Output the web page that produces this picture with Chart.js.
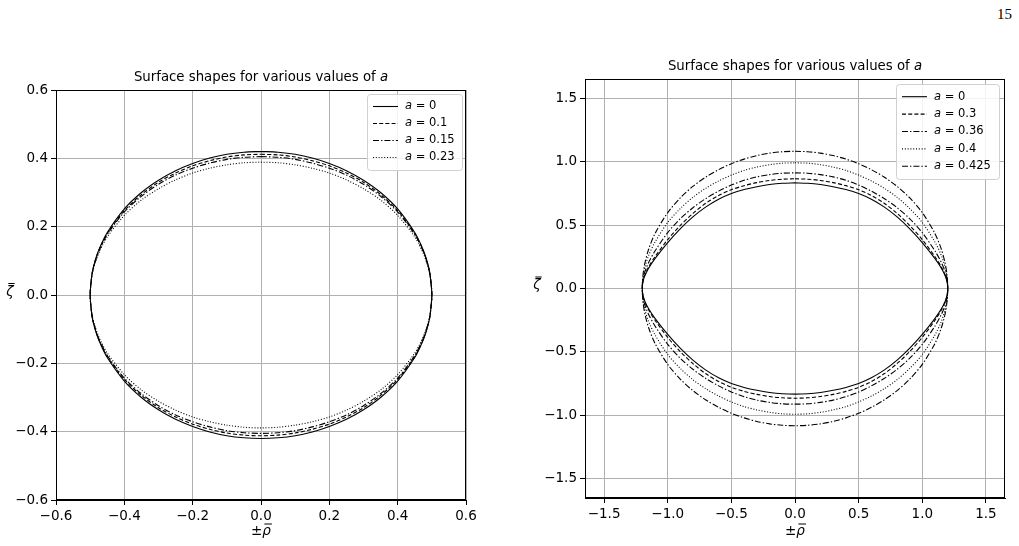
<!DOCTYPE html>
<html>
<head>
<meta charset="utf-8">
<script src="https://cdn.jsdelivr.net/npm/chart.js@4.4.1/dist/chart.umd.min.js"></script>
<style>
  html, body { margin: 0; padding: 0; background: #fff; }
  body { width: 1019px; height: 546px; position: relative; overflow: hidden; }
  canvas { position: absolute; top: 0; }
  #leftChart { left: 0; }
  #rightChart { left: 510px; }
  #pageNo { position: absolute; right: 7px; top: 6px; font-family: "Liberation Serif", "DejaVu Serif", serif; font-size: 15px; color: #000; }
</style>
</head>
<body>
<div id="pageNo">15</div>
<canvas id="leftChart" width="500" height="546" style="width:500px;height:546px"></canvas>
<canvas id="rightChart" width="509" height="546" style="width:509px;height:546px"></canvas>
<script>
// ---- left panel: half-profile zeta(rho), rho >= 0 (mirrored to ±rho, ±zeta) ----
const leftRho = [0, 0.05, 0.1, 0.15, 0.2, 0.25, 0.3, 0.35, 0.4, 0.45, 0.47, 0.48, 0.49, 0.495, 0.5];
const leftLabels = ['0', '0.1', '0.15', '0.23'];
const leftA0   = [0.420, 0.418, 0.412, 0.401, 0.385, 0.364, 0.336, 0.300, 0.252, 0.183, 0.143, 0.118, 0.084, 0.059, 0];
const leftA010 = [0.412, 0.410, 0.404, 0.393, 0.378, 0.357, 0.330, 0.294, 0.247, 0.180, 0.141, 0.116, 0.083, 0.058, 0];
const leftA015 = [0.405, 0.403, 0.397, 0.386, 0.371, 0.351, 0.324, 0.289, 0.243, 0.177, 0.138, 0.114, 0.081, 0.057, 0];
const leftA023 = [0.389, 0.387, 0.381, 0.371, 0.357, 0.337, 0.311, 0.278, 0.233, 0.170, 0.133, 0.109, 0.078, 0.055, 0];

// ---- right panel ----
const rightRho = [0, 0.1, 0.2, 0.3, 0.4, 0.5, 0.6, 0.7, 0.8, 0.9, 1.0, 1.1, 1.15, 1.18, 1.195, 1.2];
const rightLabels = ['0', '0.3', '0.36', '0.4', '0.425'];
const rightA0    = [0.832, 0.829, 0.819, 0.802, 0.779, 0.748, 0.703, 0.643, 0.566, 0.472, 0.362, 0.235, 0.160, 0.100, 0.050, 0];
const rightA030  = [0.864, 0.861, 0.851, 0.834, 0.810, 0.778, 0.733, 0.672, 0.593, 0.498, 0.385, 0.250, 0.170, 0.105, 0.055, 0];
const rightA036  = [0.911, 0.908, 0.897, 0.879, 0.852, 0.815, 0.767, 0.709, 0.638, 0.551, 0.440, 0.295, 0.205, 0.130, 0.068, 0];
const rightA040  = [0.990, 0.987, 0.975, 0.956, 0.930, 0.893, 0.847, 0.790, 0.720, 0.631, 0.520, 0.365, 0.260, 0.165, 0.085, 0];
const rightA0425 = [1.081, 1.077, 1.066, 1.047, 1.019, 0.983, 0.936, 0.878, 0.806, 0.715, 0.598, 0.432, 0.309, 0.197, 0.099, 0];

const FONT = "'DejaVu Sans', sans-serif";
const DASHES = {
  solid: [],
  dashed: [4, 2.2],
  dashdot: [6, 2, 1.4, 2],
  dotted: [1, 1.8]
};

// walk the closed surface: top right, bottom right, bottom left, top left
function closedShape(rho, zeta) {
  const pts = [];
  const n = rho.length - 1;
  for (let i = 0; i <= n; i++) pts.push({x: rho[i], y: zeta[i]});
  for (let i = n - 1; i >= 0; i--) pts.push({x: rho[i], y: -zeta[i]});
  for (let i = 1; i <= n; i++) pts.push({x: -rho[i], y: -zeta[i]});
  for (let i = n - 1; i >= 0; i--) pts.push({x: -rho[i], y: zeta[i]});
  return pts;
}

function makeDataset(label, rho, zeta, style) {
  return {
    label: label,
    data: closedShape(rho, zeta),
    showLine: true,
    borderColor: '#000',
    borderWidth: 1.1,
    borderDash: DASHES[style],
    pointRadius: 0,
    tension: 0.3,
    fill: false
  };
}

function tickFmt(v) {
  const s = Math.abs(v) < 1e-9 ? '0.0' : v.toFixed(1);
  return s.replace('-', '\u2212');
}

// title, axis labels, frame and legend drawn on top
const decorPlugin = {
  id: 'decor',
  afterDraw(chart, args, opts) {
    const ctx = chart.ctx;
    const a = chart.chartArea;
    const cx = (a.left + a.right) / 2;
    ctx.save();
    // frame
    ctx.strokeStyle = '#000';
    ctx.lineWidth = 1;
    ctx.strokeRect(a.left + 0.5, a.top + 0.5, a.right - a.left - 1, a.bottom - a.top - 1);

    // title with italic a
    const t1 = 'Surface shapes for various values of ';
    ctx.fillStyle = '#000';
    ctx.textBaseline = 'middle';
    ctx.textAlign = 'left';
    ctx.font = '13.3px ' + FONT;
    const w1 = ctx.measureText(t1).width;
    ctx.font = 'italic 13.3px ' + FONT;
    const w2 = ctx.measureText('a').width;
    let tx = cx - (w1 + w2) / 2;
    ctx.font = '13.3px ' + FONT;
    ctx.fillText(t1, tx, a.top - 12);
    ctx.font = 'italic 13.3px ' + FONT;
    ctx.fillText('a', tx + w1, a.top - 12);

    // x label  ±ρ̄
    ctx.font = '13.5px ' + FONT;
    const pm = '\u00b1';
    const wpm = ctx.measureText(pm).width;
    ctx.font = 'italic 13.5px ' + FONT;
    const wr = ctx.measureText('\u03c1').width;
    const lx = cx - (wpm + wr) / 2;
    const ly = chart.height - 15;
    ctx.font = '13.5px ' + FONT;
    ctx.fillText(pm, lx, ly);
    ctx.font = 'italic 13.5px ' + FONT;
    ctx.fillText('\u03c1', lx + wpm, ly);
    ctx.beginPath();
    ctx.lineWidth = 1;
    ctx.moveTo(lx + wpm + 2, ly - 7);
    ctx.lineTo(lx + wpm + wr + 1, ly - 7);
    ctx.stroke();

    // y label ζ̄
    const zy = (a.top + a.bottom) / 2 - 3;
    ctx.font = 'italic 13.5px ' + FONT;
    const wz = ctx.measureText('\u03b6').width;
    ctx.fillText('\u03b6', opts.ylabelX - wz / 2, zy);
    ctx.beginPath();
    ctx.moveTo(opts.ylabelX - wz / 2 + 2, zy - 8.5);
    ctx.lineTo(opts.ylabelX + wz / 2 + 1, zy - 8.5);
    ctx.stroke();

    // legend
    const L = opts.legend;
    const sets = chart.data.datasets;
    const bh = L.pad * 2 + sets.length * L.row - 4;
    ctx.fillStyle = 'rgba(255,255,255,0.85)';
    ctx.strokeStyle = '#d0d0d0';
    ctx.lineWidth = 1;
    ctx.beginPath();
    ctx.roundRect(L.x + 0.5, L.y + 0.5, L.w, bh, 3);
    ctx.fill();
    ctx.stroke();
    sets.forEach((ds, i) => {
      const y = L.y + L.pad + L.row * i + L.row / 2 - 2;
      ctx.strokeStyle = '#000';
      ctx.lineWidth = 1.1;
      ctx.setLineDash(ds.borderDash);
      ctx.beginPath();
      ctx.moveTo(L.x + 6, y);
      ctx.lineTo(L.x + 31, y);
      ctx.stroke();
      ctx.setLineDash([]);
      ctx.fillStyle = '#000';
      ctx.font = 'italic 11.5px ' + FONT;
      ctx.fillText('a', L.x + 38, y);
      const wa = ctx.measureText('a').width;
      ctx.font = '11.5px ' + FONT;
      ctx.fillText(' = ' + ds.label, L.x + 38 + wa, y);
    });
    ctx.restore();
  }
};

function axisOpts(min, max, step, fit) {
  return {
    type: 'linear',
    min: min,
    max: max,
    afterFit: fit,
    ticks: {
      stepSize: step,
      includeBounds: false,
      autoSkip: false,
      maxRotation: 0,
      color: '#000',
      padding: 3,
      font: {family: FONT, size: 13.5},
      callback: tickFmt
    },
    grid: {
      color: '#b0b0b0',
      lineWidth: 1,
      tickColor: '#000',
      tickLength: 5
    },
    border: {color: '#000', width: 1}
  };
}

function buildChart(id, datasets, range, step, pad, yWidth, xHeight, ylabelX, legend) {
  return new Chart(document.getElementById(id).getContext('2d'), {
    type: 'scatter',
    data: {datasets: datasets},
    options: {
      responsive: false,
      animation: false,
      devicePixelRatio: 1,
      layout: {padding: pad},
      plugins: {
        legend: {display: false},
        tooltip: {enabled: false},
        decor: {ylabelX: ylabelX, legend: legend}
      },
      scales: {
        x: axisOpts(-range, range, step, s => { s.height = xHeight; }),
        y: axisOpts(-range, range, step, s => { s.width = yWidth; })
      }
    },
    plugins: [decorPlugin]
  });
}

const leftSets = [
  makeDataset(leftLabels[0], leftRho, leftA0, 'solid'),
  makeDataset(leftLabels[1], leftRho, leftA010, 'dashed'),
  makeDataset(leftLabels[2], leftRho, leftA015, 'dashdot'),
  makeDataset(leftLabels[3], leftRho, leftA023, 'dotted')
];
const rightSets = [
  makeDataset(rightLabels[0], rightRho, rightA0, 'solid'),
  makeDataset(rightLabels[1], rightRho, rightA030, 'dashed'),
  makeDataset(rightLabels[2], rightRho, rightA036, 'dashdot'),
  makeDataset(rightLabels[3], rightRho, rightA040, 'dotted'),
  makeDataset(rightLabels[4], rightRho, rightA0425, 'dashdot')
];

buildChart('leftChart', leftSets, 0.6, 0.2,
  {top: 90, right: 34, left: 0, bottom: 0}, 56, 46, 10,
  {x: 367, y: 94, w: 95, row: 17, pad: 6});
buildChart('rightChart', rightSets, 1.65, 0.5,
  {top: 79, right: 14, left: 0, bottom: 0}, 75, 48, 27,
  {x: 386, y: 84, w: 103, row: 17.4, pad: 6});
</script>
</body>
</html>
